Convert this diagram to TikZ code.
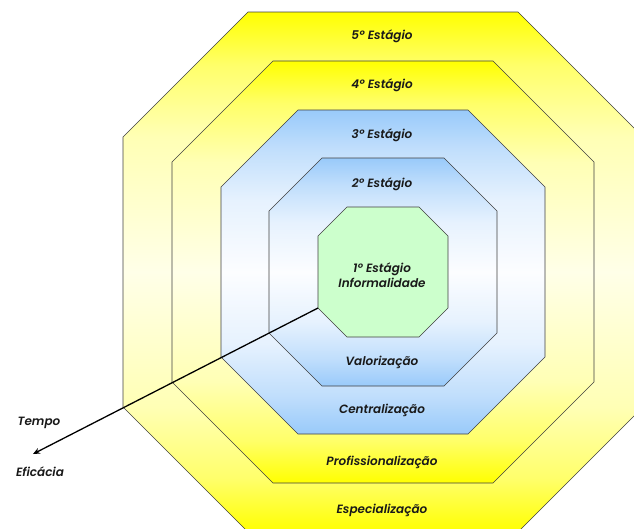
\documentclass[tikz,border=0pt]{standalone}
\usepackage{fontspec}
\setmainfont{Poppins}
\newfontfamily\stagefont{Poppins}[UprightFont=* SemiBold,ItalicFont=* SemiBold Italic]
\usepackage{tikz}
\usetikzlibrary{arrows.meta,positioning,calc}

\definecolor{bandyellow}{RGB}{255,255,0}
\definecolor{paleyellow}{RGB}{255,255,232}
\definecolor{bandblue}{RGB}{153,202,250}
\definecolor{paleblue}{RGB}{252,253,255}
\definecolor{bandgreen}{RGB}{204,255,204}

\pgfdeclareverticalshading{yellowfade}{100bp}{color(0bp)=(bandyellow); color(25bp)=(bandyellow);
  color(30bp)=(bandyellow!55!paleyellow); color(37bp)=(bandyellow!22!paleyellow); color(50bp)=(paleyellow);
  color(63bp)=(bandyellow!22!paleyellow); color(70bp)=(bandyellow!55!paleyellow); color(75bp)=(bandyellow); color(100bp)=(bandyellow)}
\pgfdeclareverticalshading{bluefade}{100bp}{color(0bp)=(bandblue); color(25bp)=(bandblue);
  color(31bp)=(bandblue!60!paleblue); color(39bp)=(bandblue!22!paleblue); color(50bp)=(paleblue);
  color(61bp)=(bandblue!22!paleblue); color(69bp)=(bandblue!60!paleblue); color(75bp)=(bandblue); color(100bp)=(bandblue)}

\tikzset{
  yellowband/.style={draw=black!75,line width=0.6pt,shading=yellowfade},
  blueband/.style={draw=black!75,line width=0.6pt,shading=bluefade},
  greenband/.style={draw=black!75,line width=0.6pt,fill=bandgreen},
  stagelabel/.style={font=\stagefont\fontsize{12}{15}\selectfont\itshape,text=black!90,align=center,inner sep=1pt},
}

\begin{document}
\begin{tikzpicture}[x=1pt,y=-1pt]
\useasboundingbox (0,0) rectangle (634,528);
\clip (0,0) rectangle (634,528);

% Octagons, outermost first (half size / corner cut / style)
\foreach \s/\c/\sty in {260/125/yellowband, 211/101/yellowband, 162/77/blueband, 114/53/blueband, 65/29/greenband}{
  \draw[\sty] (383-\s+\c,272-\s) -- (383+\s-\c,272-\s) -- (383+\s,272-\s+\c)
    -- (383+\s,272+\s-\c) -- (383+\s-\c,272+\s) -- (383-\s+\c,272+\s)
    -- (383-\s,272+\s-\c) -- (383-\s,272-\s+\c) -- cycle;
}

% Stage labels
\node[stagelabel] (st5) at (382,36) {5º Estágio};
\node[stagelabel] (st4) at (382,85) {4º Estágio};
\node[stagelabel] (st3) at (382,135) {3º Estágio};
\node[stagelabel] (st2) at (382,184) {2º Estágio};
\node[stagelabel] (st1) at (382,275) {1º Estágio\\Informalidade};
\node[stagelabel] (val) at (382,362) {Valorização};
\node[stagelabel] (cen) at (382,410) {Centralização};
\node[stagelabel] (pro) at (382,462) {Profissionalização};
\node[stagelabel] (esp) at (382,510) {Especialização};

% Axis
\coordinate (origin) at (318,308);
\coordinate (tip) at (33,454);
\draw[line width=1.3pt,-{Stealth[length=7pt,width=6pt]}] (origin) -- (tip);
\node[stagelabel] (tempo) at (39,423) {Tempo};
\node[stagelabel] (efic) at (40,472) {Eficácia};
\end{tikzpicture}
\end{document}
